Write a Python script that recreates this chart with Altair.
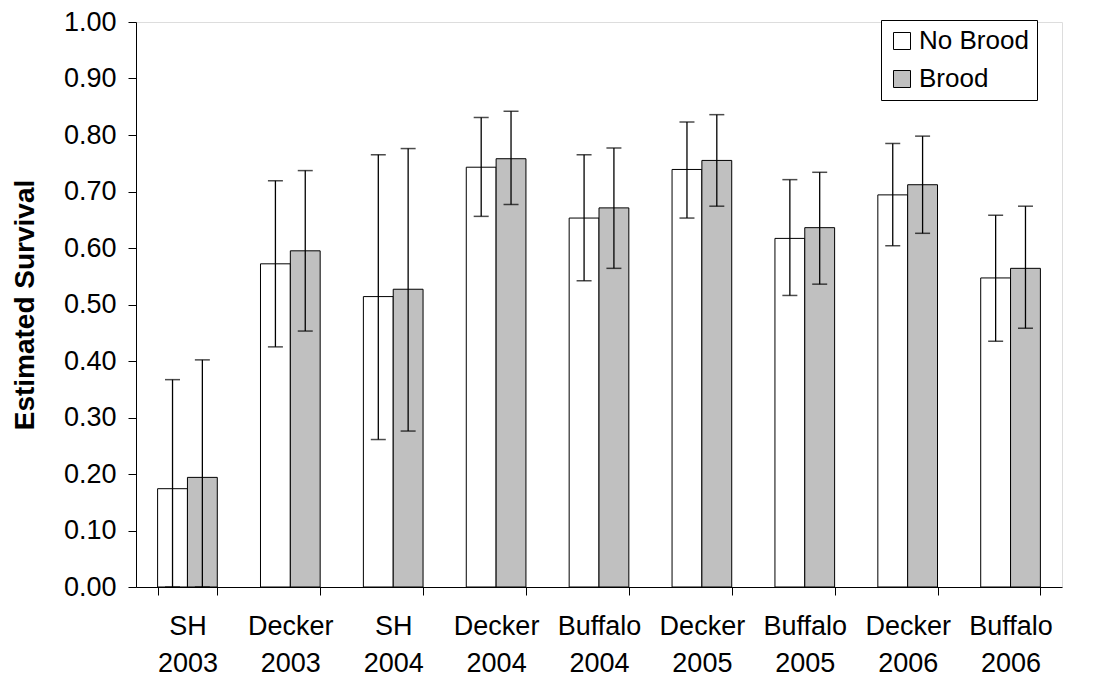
import altair as alt
import pandas as pd

categories = ["SH 2003", "Decker 2003", "SH 2004", "Decker 2004", "Buffalo 2004",
              "Decker 2005", "Buffalo 2005", "Decker 2006", "Buffalo 2006"]
series = ["No Brood", "Brood"]
nb_val = [0.174, 0.572, 0.514, 0.743, 0.653, 0.739, 0.617, 0.694, 0.547]
nb_lo = [0.0, 0.425, 0.261, 0.656, 0.542, 0.653, 0.516, 0.604, 0.435]
nb_hi = [0.367, 0.719, 0.765, 0.831, 0.765, 0.823, 0.721, 0.785, 0.658]
br_val = [0.194, 0.595, 0.527, 0.758, 0.671, 0.755, 0.636, 0.712, 0.564]
br_lo = [0.0, 0.453, 0.276, 0.677, 0.564, 0.674, 0.536, 0.626, 0.458]
br_hi = [0.402, 0.737, 0.776, 0.842, 0.777, 0.836, 0.734, 0.798, 0.674]
y_ticks = [0.0, 0.1, 0.2, 0.3, 0.4, 0.5, 0.6, 0.7, 0.8, 0.9, 1.0]

rows = []
for i, c in enumerate(categories):
    rows.append({"cat": c, "series": series[0], "v": nb_val[i], "lo": nb_lo[i], "hi": nb_hi[i]})
    rows.append({"cat": c, "series": series[1], "v": br_val[i], "lo": br_lo[i], "hi": br_hi[i]})
df = pd.DataFrame(rows)

FONT = "Liberation Sans"

x_enc = alt.X("cat:N", sort=categories, title=None,
              scale=alt.Scale(paddingInner=0.42, paddingOuter=0.21),
              axis=alt.Axis(labelExpr="split(datum.label, ' ')", labelAngle=0,
                            labelFontSize=27, labelFont=FONT, labelColor="black",
                            labelLineHeight=37, labelPadding=18, labelBaseline="top",
                            tickBand="extent", tickSize=8, tickColor="black",
                            domainColor="black", grid=False))
xo_enc = alt.XOffset("series:N", sort=series, scale=alt.Scale(paddingInner=0, paddingOuter=0))

bars = alt.Chart(df).mark_bar(stroke="black", strokeWidth=1).encode(
    x=x_enc,
    xOffset=xo_enc,
    y=alt.Y("v:Q", title="Estimated Survival",
            scale=alt.Scale(domain=[0, 1], nice=False),
            axis=alt.Axis(values=y_ticks, format=".2f", labelFontSize=27, labelFont=FONT,
                          labelColor="black", labelPadding=12, tickSize=8, tickColor="black",
                          domainColor="black", grid=False,
                          titleFontSize=28, titleFont=FONT, titleFontWeight="bold",
                          titleColor="black", titlePadding=24)),
    color=alt.Color("series:N", sort=series,
                    scale=alt.Scale(domain=series, range=["#FFFFFF", "#C0C0C0"]),
                    legend=alt.Legend(title=None, orient="none", legendX=745, legendY=-2,
                                      symbolType="square", symbolSize=289,
                                      symbolStrokeColor="black", symbolStrokeWidth=1,
                                      labelFontSize=26, labelFont=FONT, labelColor="black",
                                      labelOffset=4, rowPadding=12, padding=8,
                                      strokeColor="black", fillColor="white")),
)

rules = alt.Chart(df).mark_rule(color="black", strokeWidth=1.3).encode(
    x=alt.X("cat:N", sort=categories),
    xOffset=xo_enc,
    y="lo:Q",
    y2="hi:Q",
)

caps_hi = alt.Chart(df).mark_tick(color="black", thickness=1.5, size=15).encode(
    x=alt.X("cat:N", sort=categories),
    xOffset=xo_enc,
    y="hi:Q",
)
caps_lo = alt.Chart(df).mark_tick(color="black", thickness=1.5, size=15).encode(
    x=alt.X("cat:N", sort=categories),
    xOffset=xo_enc,
    y="lo:Q",
)

chart = alt.layer(bars, rules, caps_hi, caps_lo).properties(
    width=926, height=565,
    autosize=alt.AutoSizeParams(type="none"),
    padding={"left": 128, "top": 14, "right": 30, "bottom": 97},
).configure_view(stroke=None).configure(background="white")

chart.save("out.html", embed_options={"renderer": "svg", "actions": False})
